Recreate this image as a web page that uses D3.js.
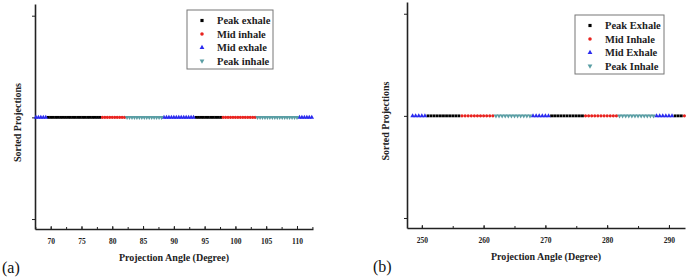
<!DOCTYPE html>
<html>
<head>
<meta charset="utf-8">
<script src="https://cdn.jsdelivr.net/npm/d3@7"></script>
<style>
  body { margin: 0; background: #fff; }
  svg { display: block; }
  svg text { font-family: "Liberation Serif", "Times New Roman", "DejaVu Serif", serif !important; }
</style>
</head>
<body>
<svg id="chart" width="689" height="280"></svg>
<script>
// ---- data, panel (a) ----
var aPeakExhale = [69.6, 70.0, 70.4, 70.8, 71.2, 71.6, 72.0, 72.4, 72.8, 73.2, 73.6, 74.0, 74.4, 74.8, 75.2, 75.6, 76.0, 76.4, 76.8, 77.2, 77.6, 78.0,
                   93.6, 94.0, 94.4, 94.8, 95.2, 95.6, 96.0, 96.4, 96.8, 97.2, 97.6];
var aMidInhale  = [78.4, 78.8, 79.2, 79.6, 80.0, 80.4, 80.8, 81.2, 81.6, 82.0,
                   98.0, 98.4, 98.8, 99.2, 99.6, 100.0, 100.4, 100.8, 101.2, 101.6, 102.0, 102.4, 102.8, 103.2];
var aMidExhale  = [67.6, 68.0, 68.4, 68.8, 69.2,
                   88.4, 88.8, 89.2, 89.6, 90.0, 90.4, 90.8, 91.2, 91.6, 92.0, 92.4, 92.8, 93.2,
                   110.4, 110.8, 111.2, 111.6, 112.0, 112.4];
var aPeakInhale = [82.4, 82.8, 83.2, 83.6, 84.0, 84.4, 84.8, 85.2, 85.6, 86.0, 86.4, 86.8, 87.2, 87.6, 88.0,
                   103.6, 104.0, 104.4, 104.8, 105.2, 105.6, 106.0, 106.4, 106.8, 107.2, 107.6, 108.0, 108.4, 108.8, 109.2, 109.6, 110.0];
var aTicks = [70, 75, 80, 85, 90, 95, 100, 105, 110];
var aLegend = ["Peak exhale", "Mid inhale", "Mid exhale", "Peak inhale"];

// ---- data, panel (b) ----
var bPeakExhale = [251.0, 251.5, 252.0, 252.5, 253.0, 253.5, 254.0, 254.5, 255.0, 255.5, 256.0,
                   271.0, 271.5, 272.0, 272.5, 273.0, 273.5, 274.0, 274.5, 275.0, 275.5, 276.0,
                   291.0, 291.5, 292.0];
var bMidInhale  = [256.5, 257.0, 257.5, 258.0, 258.5, 259.0, 259.5, 260.0, 260.5, 261.0, 261.5,
                   276.5, 277.0, 277.5, 278.0, 278.5, 279.0, 279.5, 280.0, 280.5, 281.0, 281.5,
                   292.5];
var bMidExhale  = [248.5, 249.0, 249.5, 250.0, 250.5,
                   268.0, 268.5, 269.0, 269.5, 270.0, 270.5,
                   288.0, 288.5, 289.0, 289.5, 290.0, 290.5];
var bPeakInhale = [262.0, 262.5, 263.0, 263.5, 264.0, 264.5, 265.0, 265.5, 266.0, 266.5, 267.0, 267.5,
                   282.0, 282.5, 283.0, 283.5, 284.0, 284.5, 285.0, 285.5, 286.0, 286.5, 287.0, 287.5];
var bTicks = [250, 260, 270, 280, 290];
var bLegend = ["Peak Exhale", "Mid Inhale", "Mid Exhale", "Peak Inhale"];

// sorted projection value (all the same level) and y ticks
var projValue = 0;
var yTicks = [-1, 0, 1];

// series styles, in legend order
var seriesColors  = ["#000000", "#e8231f", "#2b2bef", "#5a9ea4"];
var seriesSymbols = [d3.symbolSquare, d3.symbolCircle, d3.symbolTriangle, d3.symbolTriangle];
var seriesRotate  = [0, 0, 0, 180];
var seriesSizes   = [8, 8, 9, 9];

var serif = "Liberation Serif, Times New Roman, DejaVu Serif, serif";
var svg = d3.select("#chart");

function drawPanel(p) {
  var x = d3.scaleLinear().domain(p.xDomain).range([p.left, p.right]);
  var y = d3.scaleLinear().domain([-1.098, 1.115]).range([p.bottom, p.top]);
  var g = svg.append("g");

  // minor ticks (inward)
  var minor = d3.range(Math.ceil(p.xDomain[0] / p.minorStep) * p.minorStep, p.xDomain[1], p.minorStep);
  g.append("g")
    .attr("transform", "translate(0," + p.bottom + ")")
    .call(d3.axisBottom(x).tickValues(minor).tickSize(-2).tickFormat(""))
    .call(function(s) { s.select(".domain").remove(); })
    .selectAll("line").attr("stroke", "#222").attr("stroke-width", 1);

  var xa = g.append("g")
    .attr("transform", "translate(0," + p.bottom + ")")
    .call(d3.axisBottom(x).tickValues(p.ticks).tickSizeInner(-3).tickSizeOuter(0).tickPadding(10));
  xa.attr("font-family", serif);
  xa.select(".domain").attr("stroke", "#222").attr("stroke-width", 1.6);
  xa.selectAll("line").attr("stroke", "#222").attr("stroke-width", 1);
  xa.selectAll("text")
    .attr("font-family", serif)
    .attr("font-weight", "bold")
    .attr("font-size", 7.5)
    .attr("fill", "#222");

  var ya = g.append("g")
    .attr("transform", "translate(" + p.left + ",0)")
    .call(d3.axisLeft(y).tickValues(yTicks).tickSizeInner(3).tickSizeOuter(0).tickFormat(""));
  ya.select(".domain").attr("stroke", "#222").attr("stroke-width", 1.6);
  ya.selectAll("line").attr("stroke", "#222").attr("stroke-width", 1);

  // axis titles
  g.append("text")
    .attr("x", (p.left + p.right) / 2)
    .attr("y", p.bottom + 32)
    .attr("text-anchor", "middle")
    .attr("font-family", serif)
    .attr("font-weight", "bold")
    .attr("font-size", 10)
    .attr("fill", "#222")
    .text("Projection Angle (Degree)");

  g.append("text")
    .attr("transform", "translate(" + p.yTitleX + "," + ((p.top + p.bottom) / 2 + 6) + ") rotate(-90)")
    .attr("text-anchor", "middle")
    .attr("font-family", serif)
    .attr("font-weight", "bold")
    .attr("font-size", 10)
    .attr("fill", "#222")
    .text("Sorted Projections");

  // markers
  p.series.forEach(function(vals, i) {
    var sym = d3.symbol().type(seriesSymbols[i]).size(seriesSizes[i]);
    g.append("g").selectAll("path")
      .data(vals)
      .join("path")
      .attr("d", sym)
      .attr("fill", seriesColors[i])
      .attr("transform", function(d) {
        return "translate(" + x(d) + "," + y(projValue) + ") rotate(" + seriesRotate[i] + ")";
      });
  });

  // legend
  var lg = g.append("g").attr("transform", "translate(" + p.legend[0] + "," + p.legend[1] + ")");
  lg.append("rect")
    .attr("width", p.legendW).attr("height", 59)
    .attr("fill", "#fff").attr("stroke", "#777").attr("stroke-width", 1);
  p.labels.forEach(function(name, i) {
    var row = lg.append("g").attr("transform", "translate(0," + (10.5 + i * 13.5) + ")");
    row.append("path")
      .attr("d", d3.symbol().type(seriesSymbols[i]).size(10))
      .attr("fill", seriesColors[i])
      .attr("transform", "translate(15,0) rotate(" + seriesRotate[i] + ")");
    row.append("text")
      .attr("x", 30).attr("y", 3.5)
      .attr("font-family", serif)
      .attr("font-weight", "bold")
      .attr("font-size", 10.5)
      .attr("fill", "#222")
      .text(name);
  });

  // panel letter
  svg.append("text")
    .attr("x", p.letter[0]).attr("y", p.letter[1])
    .attr("font-family", serif)
    .attr("font-size", 16)
    .attr("fill", "#111")
    .text(p.letterText);
}

drawPanel({
  xDomain: [67.45, 112.6], ticks: aTicks, minorStep: 2.5,
  left: 35, right: 313, top: 4, bottom: 229,
  yTitleX: 21,
  series: [aPeakExhale, aMidInhale, aMidExhale, aPeakInhale],
  labels: aLegend, legend: [187, 10], legendW: 86,
  letter: [2, 273], letterText: "(a)"
});

drawPanel({
  xDomain: [247.6, 292.6], ticks: bTicks, minorStep: 5,
  left: 407, right: 685, top: 2, bottom: 228,
  yTitleX: 389,
  series: [bPeakExhale, bMidInhale, bMidExhale, bPeakInhale],
  labels: bLegend, legend: [575, 15], legendW: 89,
  letter: [373, 272], letterText: "(b)"
});
</script>
</body>
</html>
